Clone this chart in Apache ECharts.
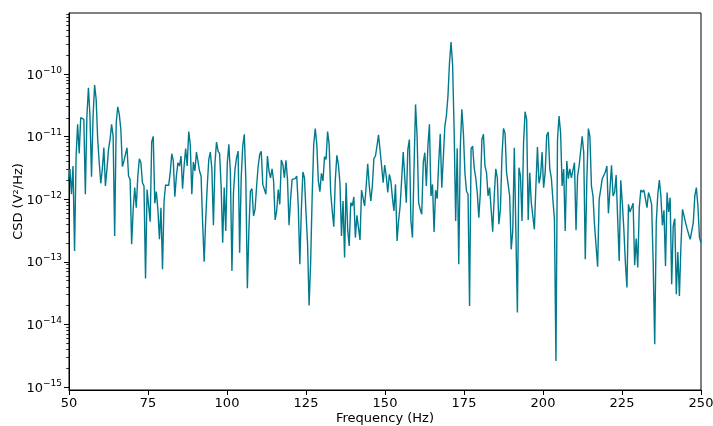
<!DOCTYPE html>
<html>
<head>
<meta charset="utf-8">
<script src="https://cdn.jsdelivr.net/npm/echarts@6/dist/echarts.min.js"></script>
<style>
html,body{margin:0;padding:0;background:#fff;}
#chart{width:713px;height:426px;}
</style>
</head>
<body>
<div id="chart"></div>
<script>
// CSD magnitude (V^2/Hz), one value per frequency bin
// bins: k * fs / NFFT with fs = 1000 Hz, NFFT = 2048, k = 102 .. 512
const FS = 1000, NFFT = 2048, K0 = 102;

const csdA = [
  2.0e-12, 3.0e-12, 1.19e-12, 3.36e-12, 1.48e-13, 4.86e-12, 1.56e-11, 5.35e-12, 1.99e-11, 1.87e-11,
  1.87e-11, 1.19e-12, 2.11e-11, 5.98e-11, 2.11e-11, 2.27e-12, 2.11e-11, 6.59e-11, 3.9e-11, 8.9e-12,
  3.8e-12, 1.78e-12, 3.0e-12, 6.6e-12, 1.61e-12, 3.0e-12, 6.2e-12, 8.9e-12, 1.56e-11, 1.0e-11,
  2.57e-13, 1.65e-11, 2.97e-11, 2.24e-11, 1.29e-11, 3.28e-12, 4.05e-12, 4.29e-12, 6.6e-12, 2.33e-12,
  2.06e-12, 1.89e-13, 6.84e-13, 1.52e-12, 7.27e-13, 2.33e-12, 4.4e-12, 3.8e-12, 1.82e-12, 1.61e-12,
  5.36e-14, 1.42e-12, 1.34e-12, 4.35e-13, 8.12e-12, 1.0e-11, 8.53e-13, 1.31e-12, 6.84e-13, 2.27e-13,
  7.27e-13, 7.54e-14, 9.29e-13, 1.67e-12, 1.65e-12, 1.65e-12, 2.63e-12, 5.29e-12, 4.05e-12, 1.09e-12,
  2.33e-12, 3.8e-12, 3.36e-12, 4.86e-12, 1.46e-12, 3.36e-12, 6.36e-12, 3.36e-12, 1.19e-11, 7.45e-12,
  1.19e-12, 3.89e-12, 2.8e-12, 5.62e-12, 5.76e-12, 2.8e-12, 2.33e-12, 4.19e-13, 1.0e-13, 4.74e-13,
  1.61e-12, 4.29e-12, 5.62e-12, 3.0e-12, 3.8e-13, 3.8e-12, 8.12e-12, 5.83e-12, 5.35e-12, 1.61e-12,
  2.0e-13, 1.52e-12, 3.08e-13, 3.8e-12, 7.45e-12, 2.63e-12, 7.1e-14, 1.27e-12, 3.0e-12, 4.57e-12,
  5.83e-12, 1.39e-13, 2.18e-12, 7.0e-12, 1.08e-11, 2.06e-12, 3.75e-14, 3.28e-13, 1.34e-12, 1.46e-12,
  5.36e-13, 6.84e-13, 1.61e-12, 3.36e-12, 5.16e-12, 5.76e-12, 1.71e-12, 1.61e-12, 1.19e-12, 4.86e-12,
  2.8e-12, 2.18e-12, 3.04e-12, 1.94e-12, 4.63e-13, 6.43e-13, 1.42e-12, 8.22e-13
];

const csdB = [
  4.19e-12, 3.57e-12, 2.18e-12, 4.14e-12, 2.06e-12, 3.8e-13, 9.88e-13, 2.06e-12, 2.11e-12, 2.11e-12,
  2.33e-12, 7.73e-13, 9.07e-14, 6.84e-13, 2.7e-12, 2.18e-12, 6.05e-13, 2.0e-13, 2.0e-14, 9.6e-14,
  1.12e-12, 7.45e-12, 1.33e-11, 7.45e-12, 1.94e-12, 1.31e-12, 2.57e-12, 1.94e-12, 4.74e-12, 4.29e-12,
  1.19e-11, 7.45e-12, 1.27e-12, 6.43e-13, 3.62e-13, 2.06e-12, 4.97e-12, 3.57e-12, 1.82e-12, 2.57e-13,
  9.29e-13, 1.16e-13, 1.82e-12, 3.28e-13, 1.78e-13, 8.74e-13, 7.73e-13, 1.08e-12, 2.42e-13, 5.49e-13,
  5.49e-13, 2.22e-13, 1.39e-12, 1.38e-12, 7.73e-13, 1.61e-12, 3.66e-12, 1.61e-12, 9.29e-13, 1.61e-12,
  4.4e-12, 4.86e-12, 7.0e-12, 1.06e-11, 1.04e-11, 3.36e-12, 1.82e-12, 3.49e-12, 2.33e-12, 1.27e-12,
  2.48e-12, 1.94e-12, 1.05e-12, 6.43e-13, 1.71e-12, 2.14e-13, 4.46e-13, 7.73e-13, 2.06e-12, 5.62e-12,
  5.69e-12, 8.74e-13, 6.2e-12, 8.9e-12, 4.46e-13, 2.42e-13, 3.0e-12, 3.24e-11, 1.0e-11, 8.74e-13,
  6.84e-13, 5.69e-13, 3.8e-12, 5.49e-12, 1.61e-12, 7.0e-12, 1.56e-11, 1.12e-12, 1.71e-12, 2.97e-13,
  1.38e-12, 1.01e-12, 3.8e-12, 1.1e-11, 1.52e-12, 4.57e-12, 1.46e-11, 2.16e-11, 4.4e-11, 1.5e-10,
  3.2e-10, 1.41e-10, 1.29e-11, 4.46e-13, 6.43e-12, 9.07e-14, 6.6e-12, 2.7e-11, 1.14e-11, 2.63e-12,
  1.34e-12, 1.19e-12, 1.96e-14, 6.36e-12, 7.0e-12, 3.16e-12, 2.18e-12, 1.27e-12, 5.04e-13, 1.27e-12,
  8.9e-12, 1.08e-11, 3.36e-12, 2.63e-12, 1.12e-12, 1.52e-12
];

const csdC = [
  1.42e-12, 3.01e-13, 1.12e-12, 3.04e-12, 2.18e-12, 3.95e-13, 6.84e-13, 4.86e-12, 1.34e-11, 1.12e-11,
  2.63e-12, 1.71e-12, 1.12e-12, 1.57e-13, 3.08e-13, 6.6e-12, 6.36e-12, 1.54e-14, 3.16e-12, 2.33e-12,
  4.46e-13, 7.92e-12, 2.48e-11, 1.87e-11, 4.63e-13, 2.63e-12, 8.74e-13, 5.36e-13, 3.28e-13, 1.61e-12,
  6.76e-12, 1.78e-12, 2.33e-12, 5.62e-12, 1.52e-12, 2.63e-12, 1.04e-11, 1.17e-11, 3.0e-12, 2.18e-12,
  9.88e-13, 4.74e-13, 2.6e-15, 8.9e-12, 2.11e-11, 1.14e-11, 1.61e-12, 3.0e-12, 3.08e-13, 4.05e-12,
  2.11e-12, 3.04e-12, 2.18e-12, 2.06e-12, 3.8e-12, 3.16e-13, 2.33e-12, 3.36e-12, 5.83e-12, 1.0e-11,
  5.49e-12, 1.09e-13, 1.94e-12, 1.33e-11, 1.0e-11, 1.61e-12, 1.12e-12, 3.8e-13, 3.7e-13, 8.3e-14,
  9.88e-13, 1.42e-12, 2.11e-12, 2.18e-12, 2.7e-12, 3.36e-12, 5.9e-13, 5.69e-13, 3.45e-12, 1.12e-12,
  1.27e-12, 2.42e-12, 4.74e-13, 1.02e-13, 1.99e-12, 8.74e-13, 3.28e-13, 9.6e-14, 3.85e-14, 8.22e-13,
  6.2e-13, 6.2e-13, 8.53e-13, 8.74e-14, 2.33e-13, 8.03e-14, 7.27e-13, 1.39e-12, 1.29e-12, 1.39e-12,
  1.39e-12, 7.27e-13, 1.27e-12, 1.05e-12, 8.22e-13, 9.6e-14, 4.8e-15, 4.19e-13, 1.19e-12, 2.0e-12,
  1.12e-12, 3.8e-13, 6.59e-13, 8.53e-14, 1.27e-12, 6.2e-13, 1.05e-12, 4.35e-14, 3.7e-13, 4.86e-13,
  3.01e-14, 1.42e-13, 2.83e-14, 1.78e-13, 6.84e-13, 5.36e-13, 4.19e-13, 3.36e-13, 2.73e-13, 2.27e-13,
  2.22e-13, 4.19e-13, 1.12e-12, 1.52e-12, 7.73e-13, 2.42e-13, 2.0e-13
];

const xTicks = [50, 75, 100, 125, 150, 175, 200, 225, 250];
const yDecades = [-15, -14, -13, -12, -11, -10];
const X_MIN = 50, X_MAX = 250;
const Y_MIN = Math.pow(10, -15.05), Y_MAX = Math.pow(10, -9.03);

const csd = csdA.concat(csdB, csdC);
const freqs = csd.map((_, i) => (K0 + i) * FS / NFFT);
const lineData = freqs.map((f, i) => [f, csd[i]]);

// y tick marks (major at decades, minor at 2..9 x decade)
const yTickData = [];
yDecades.forEach(e => {
  for (let m = 1; m <= 9; m++) {
    const v = m * Math.pow(10, e);
    if (v >= Math.pow(10, -15) && v <= Y_MAX) yTickData.push([X_MIN, v, m === 1 ? 1 : 0]);
  }
});

const FONT = 'DejaVu Sans';
const chart = echarts.init(document.getElementById('chart'), null, {renderer: 'canvas'});
chart.setOption({
  animation: false,
  backgroundColor: '#fff',
  textStyle: {fontFamily: FONT},
  grid: {left: 69, right: 12, top: 13, bottom: 36, show: true, borderColor: '#000', borderWidth: 1, containLabel: false, outerBoundsMode: 'none'},
  xAxis: {
    type: 'value', min: X_MIN, max: X_MAX, interval: 25,
    name: 'Frequency (Hz)', nameLocation: 'middle', nameGap: 22, nameMoveOverlap: false,
    nameTextStyle: {fontFamily: FONT, fontSize: 13, color: '#000'},
    axisLine: {show: true, lineStyle: {color: '#000', width: 1}},
    axisTick: {show: true, inside: false, length: 5, lineStyle: {color: '#000', width: 1}},
    axisLabel: {fontFamily: FONT, fontSize: 13, color: '#000', margin: 7,
      formatter: v => (xTicks.indexOf(v) >= 0 ? String(v) : '')},
    splitLine: {show: false}
  },
  yAxis: {
    type: 'log', logBase: 10, min: Y_MIN, max: Y_MAX,
    name: 'CSD (V\u00b2/Hz)', nameLocation: 'middle', nameGap: 44, nameRotate: 90, nameMoveOverlap: false,
    nameTextStyle: {fontFamily: FONT, fontSize: 13, color: '#000'},
    axisLine: {show: true, lineStyle: {color: '#000', width: 1}},
    axisTick: {show: false},
    axisLabel: {
      margin: 7, color: '#000',
      formatter: function (v) {
        const e = Math.log10(v);
        const r = Math.round(e);
        if (Math.abs(e - r) > 1e-6 || yDecades.indexOf(r) < 0) return '';
        return '{b|10}{s|' + (r < 0 ? '\u2212' : '') + Math.abs(r) + '}';
      },
      rich: {
        b: {fontFamily: FONT, fontSize: 13, color: '#000', lineHeight: 16, verticalAlign: 'bottom'},
        s: {fontFamily: FONT, fontSize: 9, color: '#000', lineHeight: 8, verticalAlign: 'top'}
      }
    },
    splitLine: {show: false},
    minorTick: {show: false}
  },
  series: [
    {
      type: 'line', data: lineData, showSymbol: false, symbol: 'none', clip: true,
      lineStyle: {color: '#027a8e', width: 1.4}, itemStyle: {color: '#027a8e'}
    },
    {
      type: 'custom', data: yTickData, silent: true, clip: false, z: 5,
      renderItem: function (params, api) {
        const p = api.coord([api.value(0), api.value(1)]);
        const len = api.value(2) === 1 ? 5 : 2.8;
        const y = Math.round(p[1]) + 0.5;
        return {type: 'line', shape: {x1: p[0] - len, y1: y, x2: p[0], y2: y},
          style: {stroke: '#000', lineWidth: api.value(2) === 1 ? 1 : 0.8}};
      }
    }
  ]
});
</script>
</body>
</html>
